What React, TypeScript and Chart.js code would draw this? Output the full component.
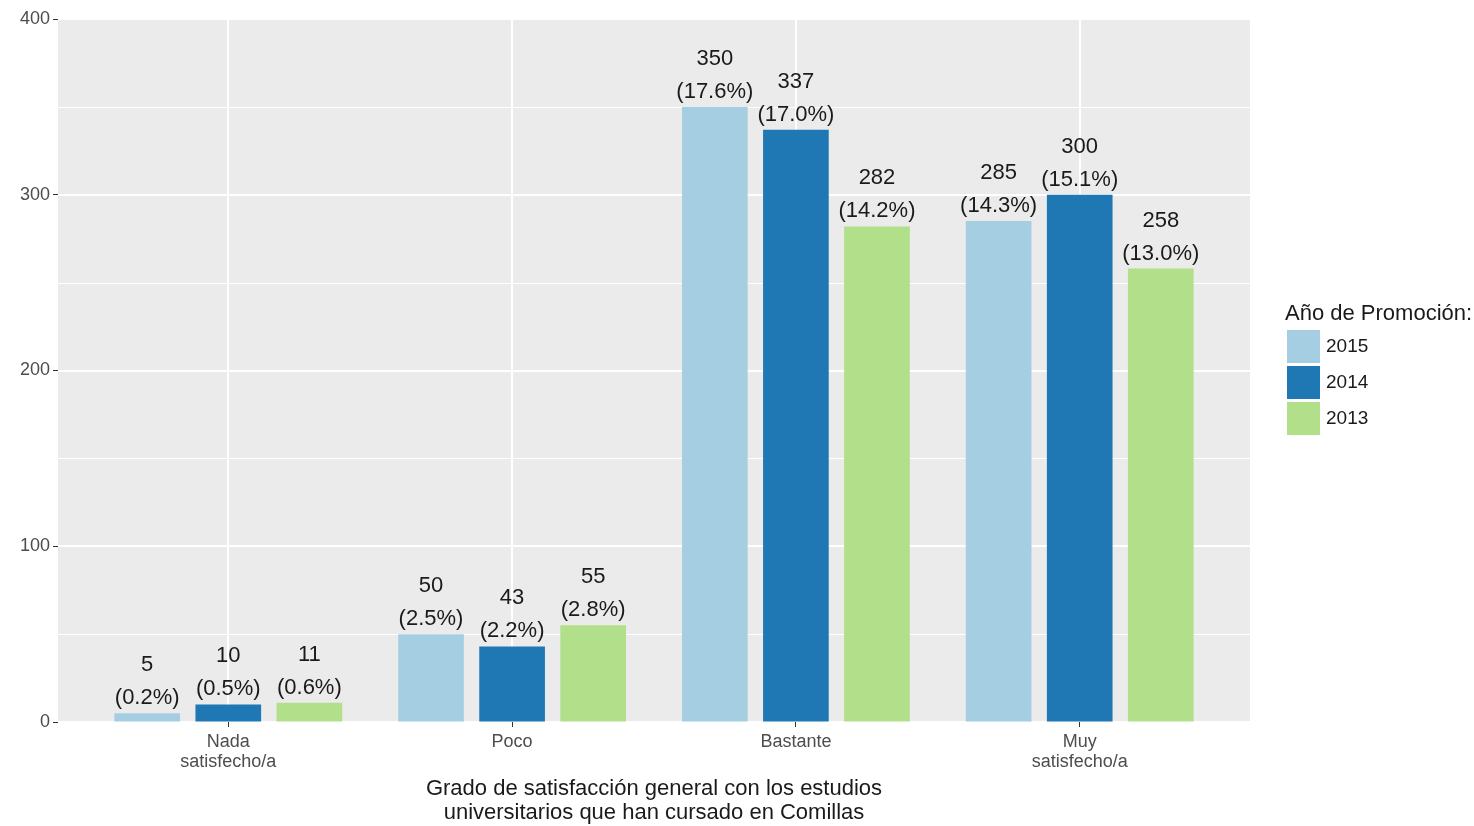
import React, { useEffect, useRef } from "react";
import { Chart, registerables } from "chart.js";

Chart.register(...registerables);

const categories: string[][] = [["Nada", "satisfecho/a"], ["Poco"], ["Bastante"], ["Muy", "satisfecho/a"]];
const years = ["2015", "2014", "2013"];
const counts2015 = [5, 50, 350, 285];
const counts2014 = [10, 43, 337, 300];
const counts2013 = [11, 55, 282, 258];
const pct2015 = ["0.2%", "2.5%", "17.6%", "14.3%"];
const pct2014 = ["0.5%", "2.2%", "17.0%", "15.1%"];
const pct2013 = ["0.6%", "2.8%", "14.2%", "13.0%"];
const colors = ["#a6cee3", "#1f78b4", "#b2df8a"];
const yTicks = [0, 100, 200, 300, 400];
const yMinor = [50, 150, 250, 350];
const xTitle = ["Grado de satisfacción general con los estudios", "universitarios que han cursado en Comillas"];
const legendTitle = "Año de Promoción:";

const FONT = "'Liberation Sans', Arial, sans-serif";

const panelPlugin = {
  id: "panel",
  beforeDraw(chart: any) {
    const { ctx, chartArea: a, scales } = chart;
    ctx.save();
    ctx.fillStyle = "#ffffff";
    ctx.fillRect(0, 0, chart.width, chart.height);
    ctx.fillStyle = "#EBEBEB";
    ctx.fillRect(a.left, a.top, a.right - a.left, a.bottom - a.top);
    ctx.strokeStyle = "#ffffff";
    ctx.lineWidth = 1;
    yMinor.forEach((v) => {
      const y = Math.round(scales.y.getPixelForValue(v)) + 0.5;
      ctx.beginPath();
      ctx.moveTo(a.left, y);
      ctx.lineTo(a.right, y);
      ctx.stroke();
    });
    ctx.lineWidth = 2;
    yTicks.forEach((v) => {
      const y = Math.round(scales.y.getPixelForValue(v));
      ctx.beginPath();
      ctx.moveTo(a.left, y);
      ctx.lineTo(a.right, y);
      ctx.stroke();
    });
    categories.forEach((_, i) => {
      const x = Math.round(scales.x.getPixelForValue(i));
      ctx.beginPath();
      ctx.moveTo(x, a.top);
      ctx.lineTo(x, a.bottom);
      ctx.stroke();
    });
    ctx.restore();
  },
};

const labelsPlugin = {
  id: "barLabels",
  afterDatasetsDraw(chart: any) {
    const { ctx } = chart;
    const pcts = [pct2015, pct2014, pct2013];
    const cnts = [counts2015, counts2014, counts2013];
    ctx.save();
    ctx.fillStyle = "#1a1a1a";
    ctx.font = `22px ${FONT}`;
    ctx.textAlign = "center";
    ctx.textBaseline = "middle";
    chart.data.datasets.forEach((_: any, di: number) => {
      const meta = chart.getDatasetMeta(di);
      meta.data.forEach((el: any, i: number) => {
        ctx.fillText(String(cnts[di][i]), el.x, el.y - 48);
        ctx.fillText(`(${pcts[di][i]})`, el.x, el.y - 15);
      });
    });
    ctx.restore();
  },
};

const extrasPlugin = {
  id: "extras",
  afterDraw(chart: any) {
    const { ctx, chartArea: a } = chart;
    ctx.save();
    ctx.fillStyle = "#1a1a1a";
    ctx.font = `22px ${FONT}`;
    ctx.textAlign = "center";
    ctx.textBaseline = "middle";
    const cx = (a.left + a.right) / 2;
    ctx.fillText(xTitle[0], cx, a.bottom + 67);
    ctx.fillText(xTitle[1], cx, a.bottom + 91);
    ctx.textAlign = "left";
    ctx.font = `22px ${FONT}`;
    ctx.fillText(legendTitle, a.right + 35, 314);
    ctx.font = `19px ${FONT}`;
    years.forEach((yr, i) => {
      const top = 330 + i * 36;
      ctx.fillStyle = colors[i];
      ctx.fillRect(a.right + 37, top, 33, 33);
      ctx.fillStyle = "#1a1a1a";
      ctx.fillText(yr, a.right + 76, top + 17);
    });
    ctx.restore();
  },
};

export default function App() {
  const ref = useRef<HTMLCanvasElement>(null);
  useEffect(() => {
    if (!ref.current) return;
    const series = [counts2015, counts2014, counts2013];
    const chart = new Chart(ref.current, {
      type: "bar",
      data: {
        datasets: years.map((yr, di) => ({
          label: yr,
          data: series[di].map((v, i) => ({ x: i, y: v })),
          backgroundColor: colors[di],
          borderWidth: 0,
          categoryPercentage: 0.857,
          barPercentage: 0.81,
        })),
      },
      options: {
        responsive: false,
        animation: false,
        devicePixelRatio: 1,
        layout: { padding: { top: 19, right: 224, left: 0, bottom: 0 } },
        plugins: { legend: { display: false }, tooltip: { enabled: false } },
        scales: {
          x: {
            type: "linear",
            min: -0.6,
            max: 3.6,
            offset: false,
            afterBuildTicks: (s: any) => {
              s.ticks = categories.map((_, i) => ({ value: i }));
            },
            afterFit: (s: any) => {
              s.height = 104;
            },
            ticks: {
              callback: (v: any) => categories[v as number] ?? "",
              font: { family: FONT, size: 18, lineHeight: 1.1 },
              color: "#4d4d4d",
              padding: 5,
              maxRotation: 0,
              autoSkip: false,
            },
            grid: { offset: false, drawOnChartArea: false, drawTicks: true, tickLength: 5, color: "#333333", tickColor: "#333333" },
            border: { display: false },
          },
          y: {
            min: 0,
            max: 400,
            afterBuildTicks: (s: any) => {
              s.ticks = yTicks.map((v) => ({ value: v }));
            },
            afterFit: (s: any) => {
              s.width = 58;
            },
            ticks: {
              font: { family: FONT, size: 18 },
              color: "#4d4d4d",
              padding: 3,
            },
            grid: { drawOnChartArea: false, drawTicks: true, tickLength: 5, color: "#333333", tickColor: "#333333" },
            border: { display: false },
          },
        },
      },
      plugins: [panelPlugin, labelsPlugin, extrasPlugin],
    } as any);
    return () => chart.destroy();
  }, []);
  return (
    <div style={{ position: "fixed", left: 0, top: 0, width: 1474, height: 826, background: "#fff" }}>
      <canvas ref={ref} width={1474} height={826} style={{ display: "block", width: 1474, height: 826 }} />
    </div>
  );
}
